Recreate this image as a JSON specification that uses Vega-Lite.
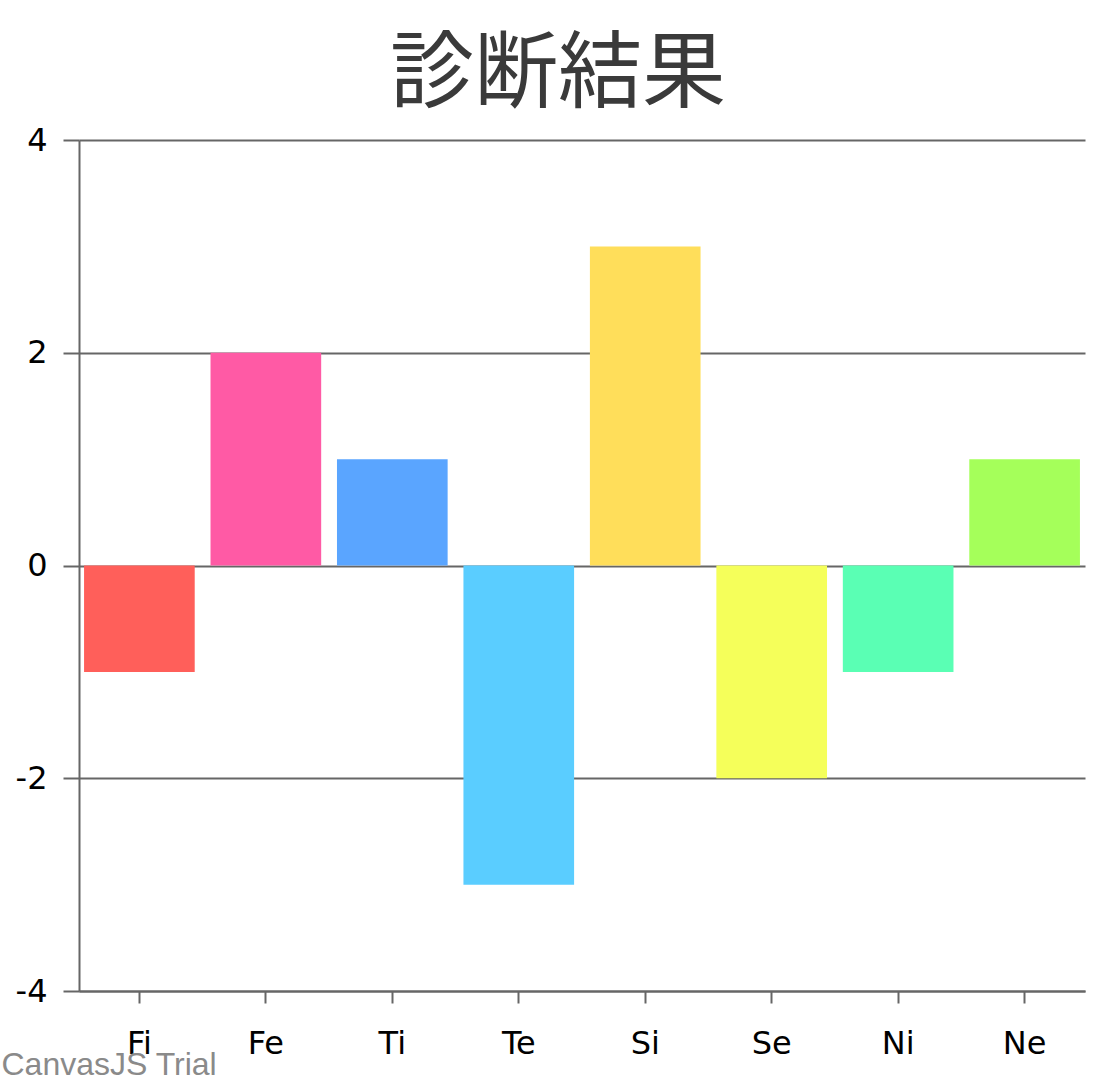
{
  "$schema": "https://vega.github.io/schema/vega-lite/v6.json",
  "width": 1006,
  "height": 851,
  "autosize": {"type": "none"},
  "padding": {"left": 79, "top": 140, "right": 31, "bottom": 89},
  "background": "white",
  "title": {
    "text": "診断結果",
    "font": "Noto Sans CJK JP",
    "fontSize": 84,
    "fontWeight": "normal",
    "color": "#3a3a3a",
    "anchor": "middle",
    "baseline": "alphabetic",
    "offset": 39,
    "dy": 100,
    "dx": -24
  },
  "data": {
    "values": [
      {"type": "Fi", "value": -1, "color": "#FF5F5A"},
      {"type": "Fe", "value": 2, "color": "#FF5AA5"},
      {"type": "Ti", "value": 1, "color": "#5AA5FF"},
      {"type": "Te", "value": -3, "color": "#5ACDFF"},
      {"type": "Si", "value": 3, "color": "#FFDE5A"},
      {"type": "Se", "value": -2, "color": "#F5FF5A"},
      {"type": "Ni", "value": -1, "color": "#5AFFB4"},
      {"type": "Ne", "value": 1, "color": "#A5FF5A"}
    ]
  },
  "config": {
    "view": {"stroke": null},
    "axis": {
      "labelFont": "DejaVu Sans",
      "labelFontSize": 32,
      "labelColor": "#000000",
      "domainColor": "#666666",
      "domainWidth": 2,
      "tickColor": "#666666",
      "tickWidth": 2,
      "gridColor": "#666666",
      "gridWidth": 2
    }
  },
  "mark": {"type": "bar"},
  "encoding": {
    "x": {
      "field": "type",
      "type": "nominal",
      "sort": null,
      "scale": {"paddingInner": 0.125, "paddingOuter": 0.04},
      "axis": {
        "title": "CanvasJS Trial",
        "titleFont": "Liberation Sans",
        "titleFontSize": 32,
        "titleFontWeight": "normal",
        "titleColor": "#8a8a8a",
        "titleAnchor": "start",
        "titleAlign": "left",
        "titleBaseline": "alphabetic",
        "titleX": -78,
        "titleY": 83,
        "labelAngle": 0,
        "tickSize": 12,
        "labelPadding": 25,
        "grid": false
      }
    },
    "y": {
      "field": "value",
      "type": "quantitative",
      "scale": {"domain": [-4, 4], "nice": false},
      "axis": {
        "title": null,
        "values": [-4, -2, 0, 2, 4],
        "labelExpr": "toString(datum.value)",
        "tickSize": 16,
        "labelPadding": 16,
        "grid": true
      }
    },
    "color": {"field": "color", "type": "nominal", "scale": null, "legend": null}
  }
}
